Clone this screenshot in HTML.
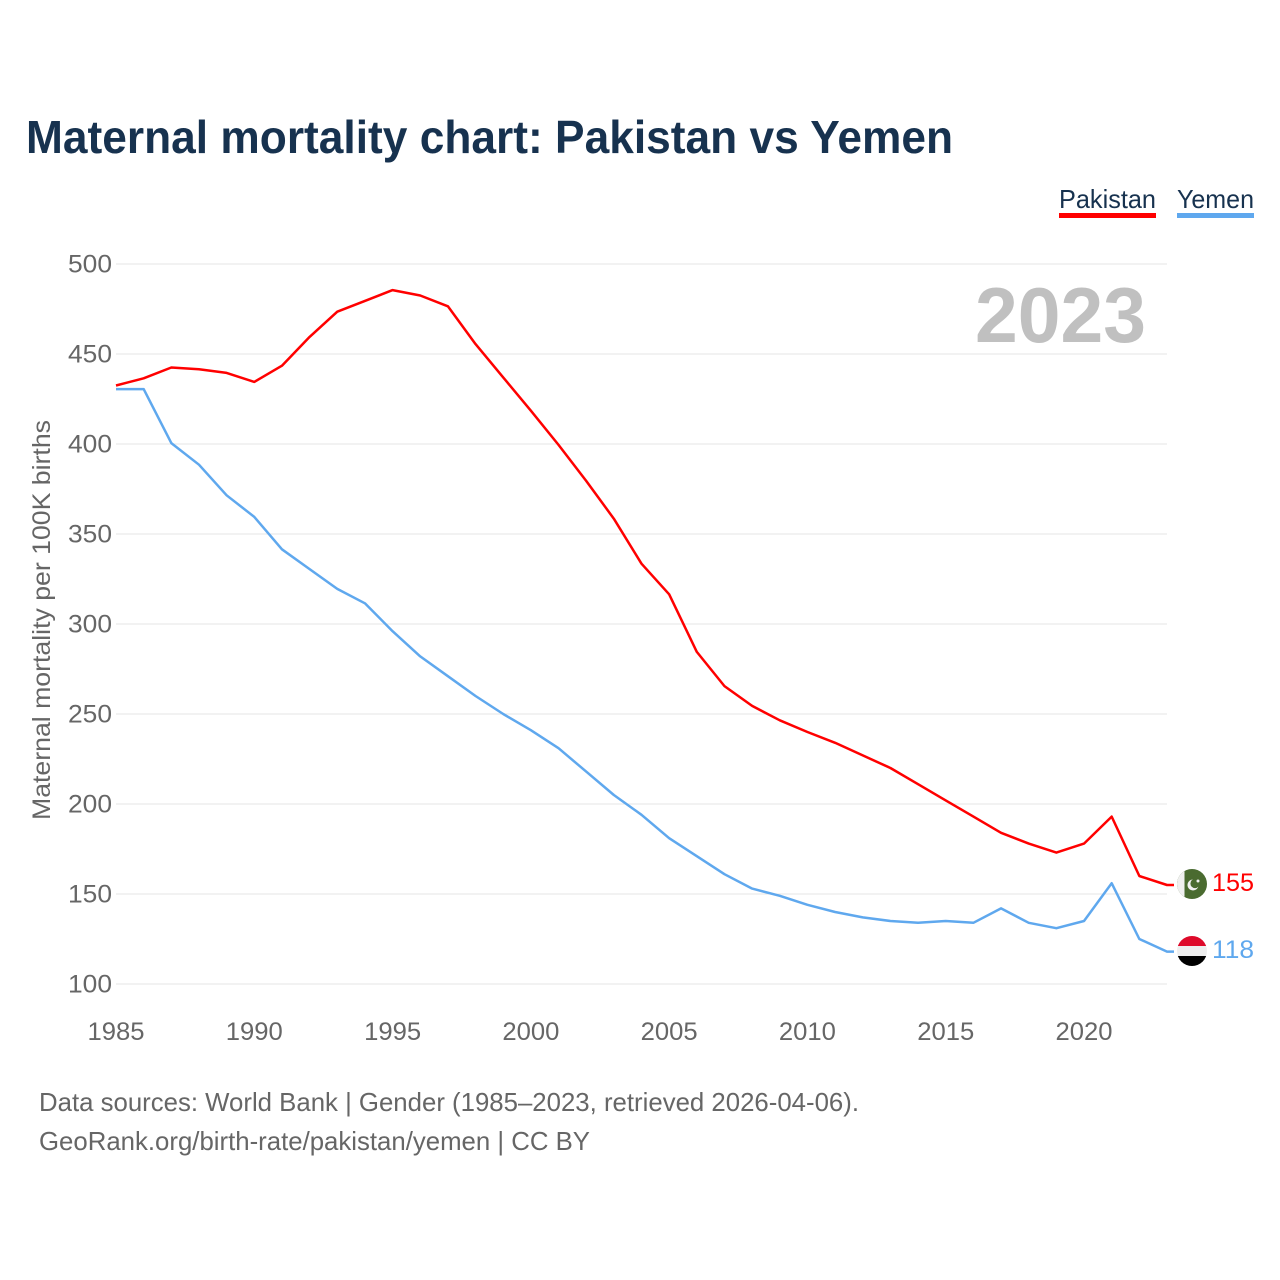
<!DOCTYPE html>
<html lang="en">
<head>
<meta charset="utf-8">
<title>Maternal mortality chart: Pakistan vs Yemen</title>
<style>
html,body{margin:0;padding:0;background:#fff;}
svg{display:block;font-family:"Liberation Sans",sans-serif;}
</style>
</head>
<body>
<svg id="chart" width="1280" height="1280" viewBox="0 0 1280 1280" xmlns="http://www.w3.org/2000/svg">
  <rect width="1280" height="1280" fill="#fff"/>
  <text x="26" y="153" font-size="46" font-weight="700" fill="#17324f" textLength="927" lengthAdjust="spacingAndGlyphs">Maternal mortality chart: Pakistan vs Yemen</text>

  <text x="1059" y="208" font-size="26" fill="#17324f" textLength="97" lengthAdjust="spacingAndGlyphs">Pakistan</text>
  <rect x="1059" y="213" width="97" height="5" fill="#ff0000"/>
  <text x="1177" y="208" font-size="26" fill="#17324f" textLength="77" lengthAdjust="spacingAndGlyphs">Yemen</text>
  <rect x="1177" y="213" width="77" height="5" fill="#5fa8ee"/>

  <g id="grid"></g>
  <g id="yticks"></g>
  <g id="xticks"></g>

  <text x="975" y="342" font-size="78" font-weight="700" fill="#c0c0c0" textLength="171" lengthAdjust="spacingAndGlyphs">2023</text>

  <text transform="translate(50,820) rotate(-90)" x="0" y="0" font-size="25" fill="#666" textLength="400" lengthAdjust="spacingAndGlyphs">Maternal mortality per 100K births</text>

  <g id="series"></g>

  <defs>
    <clipPath id="flag-clip-pk"><circle cx="1192" cy="884" r="15"/></clipPath>
    <clipPath id="flag-clip-ye"><circle cx="1192" cy="951" r="15"/></clipPath>
  </defs>
  <g clip-path="url(#flag-clip-pk)">
    <rect x="1177" y="869" width="30" height="30" fill="#4a6b30"/>
    <rect x="1177" y="869" width="7.5" height="30" fill="#f0f0f0"/>
    <circle cx="1193" cy="885" r="5.5" fill="#f0f0f0"/>
    <circle cx="1195" cy="883.5" r="4.6" fill="#4a6b30"/>
    <circle cx="1198" cy="881" r="1.5" fill="#f0f0f0"/>
  </g>
  <g clip-path="url(#flag-clip-ye)">
    <rect x="1177" y="936" width="30" height="10" fill="#de0a2a"/>
    <rect x="1177" y="946" width="30" height="10" fill="#eeeeee"/>
    <rect x="1177" y="956" width="30" height="11" fill="#000"/>
  </g>

  <text x="1212" y="891" font-size="25" fill="#ff0000" textLength="42" lengthAdjust="spacingAndGlyphs">155</text>
  <text x="1212" y="958" font-size="25" fill="#5fa8ee" textLength="42" lengthAdjust="spacingAndGlyphs">118</text>

  <text x="39" y="1111" font-size="26" fill="#666" textLength="820" lengthAdjust="spacingAndGlyphs">Data sources: World Bank | Gender (1985–2023, retrieved 2026-04-06).</text>
  <text x="39" y="1150" font-size="26" fill="#666" textLength="551" lengthAdjust="spacingAndGlyphs">GeoRank.org/birth-rate/pakistan/yemen | CC BY</text>
</svg>
<script>
const firstYear = 1985;
const lastYear = 2023;
const xTickLabels = [1985, 1990, 1995, 2000, 2005, 2010, 2015, 2020];
const yTickLabels = [100, 150, 200, 250, 300, 350, 400, 450, 500];
const pakistanValues = [432.5, 436.5, 442.5, 441.5, 439.5, 434.5, 443.5, 459.5, 473.5, 479.5, 485.5, 482.5, 476.5, 455.5, 437, 418.5, 399.5, 379.5, 358.5, 333.5, 316.5, 284.5, 265.5, 254.5, 246.5, 240, 234, 227, 220, 211, 202, 193, 184, 178, 173, 178, 193, 160, 155];
const yemenValues = [430.5, 430.5, 400.5, 388.5, 371.5, 359.5, 341.5, 330.5, 319.5, 311.5, 296, 282, 271, 260, 250, 241, 231, 218, 205, 194, 181, 171, 161, 153, 149, 144, 140, 137, 135, 134, 135, 134, 142, 134, 131, 135, 156, 125, 118];

const NS = 'http://www.w3.org/2000/svg';
function xScale(year) {
  return 116 + (year - firstYear) * (1167 - 116) / (lastYear - firstYear);
}
function yScale(value) {
  return 984 - (value - 100) * 1.8;
}
const grid = document.getElementById('grid');
const yticks = document.getElementById('yticks');
const xticks = document.getElementById('xticks');
const series = document.getElementById('series');

yTickLabels.forEach(function (v) {
  const line = document.createElementNS(NS, 'line');
  
  
  line.setAttribute('x1', 116);
  line.setAttribute('x2', 1167);
  line.setAttribute('y1', yScale(v));
  line.setAttribute('y2', yScale(v));
  line.setAttribute('stroke', '#e6e6e6');
  line.setAttribute('stroke-width', '1');
  line.setAttribute('shape-rendering', 'crispEdges');
  grid.appendChild(line);

  const t = document.createElementNS(NS, 'text');
  
  
  t.setAttribute('x', 68);
  t.setAttribute('y', yScale(v) + 8.5);
  t.setAttribute('font-size', '25');
  t.setAttribute('fill', '#666');
  t.setAttribute('textLength', '44');
  t.setAttribute('lengthAdjust', 'spacingAndGlyphs');
  t.textContent = v;
  yticks.appendChild(t);
});

xTickLabels.forEach(function (y) {
  const t = document.createElementNS(NS, 'text');
  
  
  t.setAttribute('x', xScale(y) - 28.5);
  t.setAttribute('y', 1040);
  t.setAttribute('font-size', '25');
  t.setAttribute('fill', '#666');
  t.setAttribute('textLength', '57');
  t.setAttribute('lengthAdjust', 'spacingAndGlyphs');
  t.textContent = y;
  xticks.appendChild(t);
});

function drawLine(values, color, name) {
  let pts = values.map(function (v, i) {
    return xScale(firstYear + i).toFixed(2) + ',' + yScale(v).toFixed(2);
  });
  const lastV = values[values.length - 1];
  pts.push((xScale(lastYear) + 7) + ',' + yScale(lastV).toFixed(2));
  const p = document.createElementNS(NS, 'polyline');
  
  
  p.setAttribute('points', pts.join(' '));
  p.setAttribute('fill', 'none');
  p.setAttribute('stroke', color);
  p.setAttribute('stroke-width', '2.5');
  p.setAttribute('stroke-linejoin', 'round');
  series.appendChild(p);
}
drawLine(pakistanValues, '#ff0000', 'line-pakistan');
drawLine(yemenValues, '#5fa8ee', 'line-yemen');
</script>
</body>
</html>
